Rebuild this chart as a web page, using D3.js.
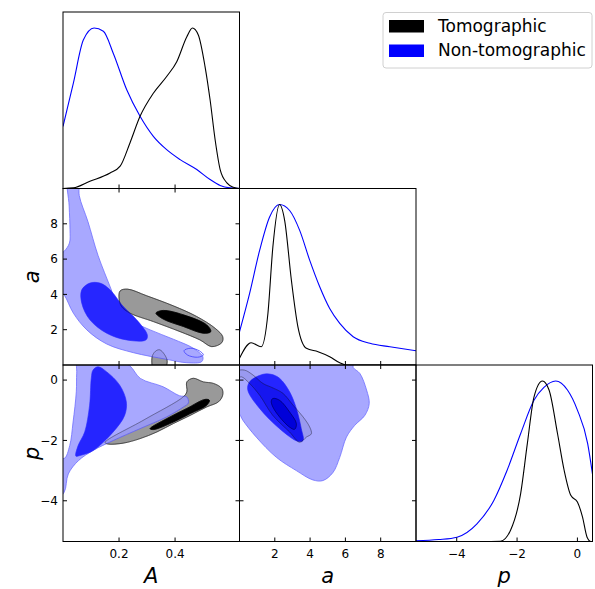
<!DOCTYPE html>
<html><head><meta charset="utf-8">
<script src="https://cdn.jsdelivr.net/npm/d3@7"></script>
<style>body{margin:0;background:#fff} text{font-family:"DejaVu Sans",sans-serif}</style>
</head><body><svg id="c" width="595" height="589"></svg>
<script>
// ---------------- DATA ----------------
const paramNames = ["A", "a", "p"];
const domainA = [0, 0.63];
const domain_a = [0, 10];
const domainP = [-5.35, 0.5];
const ticksA = [0.2, 0.4];
const ticks_a = [2, 4, 6, 8];
const ticksP = [-4, -2, 0];
const seriesNames = ["Tomographic", "Non-tomographic"];

// 1D marginals: [value, normalised density]
const margA_tomo = [[0,0],[0.037,0.004],[0.096,0.045],[0.168,0.097],[0.204,0.139],[0.239,0.284],[0.275,0.45],[0.3225,0.594],[0.37,0.698],[0.406,0.79],[0.442,0.946],[0.462,1.0],[0.483,0.957],[0.507,0.76],[0.525,0.553],[0.543,0.304],[0.561,0.118],[0.585,0.035],[0.608,0.008],[0.63,0]];
const margA_non = [[0,0.387],[0.037,0.657],[0.0725,0.925],[0.111,1.0],[0.144,0.98],[0.18,0.84],[0.2275,0.615],[0.275,0.45],[0.3225,0.325],[0.37,0.242],[0.418,0.18],[0.4775,0.118],[0.525,0.056],[0.561,0.019],[0.596,0.004],[0.63,0]];
const marg_a_tomo = [[0,0.042],[0.66,0.139],[1.23,0.114],[1.61,0.321],[1.89,0.735],[2.27,1.0],[2.56,0.90],[2.94,0.528],[3.31,0.238],[3.79,0.104],[4.45,0.083],[5.11,0.052],[5.68,0.014],[6.06,0],[7.0,0],[10,0]];
const marg_a_non = [[0,0.207],[0.57,0.445],[1.14,0.714],[1.70,0.921],[2.27,1.0],[2.84,0.963],[3.41,0.839],[3.98,0.652],[4.55,0.486],[5.11,0.352],[5.68,0.259],[6.44,0.176],[7.39,0.135],[8.52,0.114],[10,0.089]];
const margP_tomo = [[-5.35,0],[-3.2,0],[-2.55,0.002],[-2.22,0.069],[-1.88,0.30],[-1.66,0.61],[-1.44,0.90],[-1.16,1.0],[-0.94,0.944],[-0.66,0.673],[-0.44,0.444],[-0.22,0.2875],[0.0,0.246],[0.17,0.152],[0.32,0.027],[0.45,0],[0.5,0]];
const margP_non = [[-5.35,0.004],[-4.6,0.012],[-3.99,0.027],[-3.33,0.11],[-2.77,0.256],[-2.33,0.444],[-1.88,0.673],[-1.44,0.88],[-1.11,0.96],[-0.72,1.0],[-0.33,0.944],[0.0,0.819],[0.34,0.61],[0.5,0.42]];

// 2D contours (A vs a)
const Aa_tomo_outer = [[0.204,4.20],[0.23,4.30],[0.299,3.92],[0.394,3.35],[0.477,2.75],[0.543,2.08],[0.570,1.61],[0.567,1.27],[0.531,1.04],[0.489,1.42],[0.418,1.89],[0.3225,2.46],[0.239,2.94],[0.209,3.31],[0.2,3.79]];
const Aa_tomo_island = [[0.318,0.45],[0.33,0.78],[0.345,0.86],[0.362,0.6],[0.372,0.2],[0.36,-0.3],[0.325,-0.3]];
const Aa_tomo_inner = [[0.332,2.94],[0.358,3.09],[0.43,2.84],[0.513,2.27],[0.5275,1.89],[0.501,1.80],[0.43,2.18],[0.358,2.60]];
const Aa_non_outer = [[0.019,10.6],[0.055,10.6],[0.058,9.6],[0.089,8.125],[0.125,6.21],[0.171,4.32],[0.195,3.31],[0.239,2.56],[0.311,1.99],[0.394,1.46],[0.465,0.95],[0.499,0.47],[0.495,0.19],[0.442,0.13],[0.37,0.32],[0.251,0.70],[0.156,1.19],[0.085,1.99],[0.037,2.94],[0.004,3.98],[-0.03,4.6],[-0.03,6.0],[0.004,6.44],[0.023,6.91],[0.025,7.67],[0.022,9.0]];
const Aa_non_inner = [[0.096,4.64],[0.067,4.26],[0.067,3.50],[0.096,2.56],[0.156,1.80],[0.227,1.42],[0.296,1.42],[0.301,1.70],[0.263,2.56],[0.215,3.31],[0.168,4.26],[0.132,4.64]];
const Aa_non_island = [[0.432,0.81],[0.456,0.95],[0.487,0.80],[0.501,0.57],[0.48,0.44],[0.444,0.57]];

// 2D contours (A vs p)
const Ap_tomo_outer = [[0.15,-2.07],[0.289,-1.32],[0.4286,-0.56],[0.442,-0.39],[0.442,-0.06],[0.465,0.06],[0.501,-0.06],[0.537,-0.11],[0.567,-0.28],[0.570,-0.5],[0.555,-0.72],[0.513,-0.89],[0.454,-1.17],[0.394,-1.44],[0.335,-1.72],[0.275,-1.94],[0.215,-2.09],[0.161,-2.12]];
const Ap_tomo_inner = [[0.311,-1.61],[0.37,-1.28],[0.442,-0.94],[0.507,-0.64],[0.5225,-0.67],[0.513,-0.83],[0.454,-1.11],[0.394,-1.39],[0.3225,-1.64]];
const Ap_non_outer = [[0.054,0.62],[0.204,0.62],[0.239,0.47],[0.276,0.056],[0.357,-0.22],[0.416,-0.52],[0.442,-0.56],[0.4475,-0.76],[0.43,-0.89],[0.37,-1.22],[0.275,-1.61],[0.18,-2.0],[0.108,-2.33],[0.055,-2.67],[0.019,-3.11],[0.004,-3.72],[-0.03,-4.0],[-0.03,-2.5],[0.004,-2.6],[0.024,-2.17],[0.036,-1.39],[0.0475,-0.39],[0.049,0.23]];
const Ap_non_inner = [[0.125,0.44],[0.155,0.28],[0.2025,-0.17],[0.226,-0.72],[0.22,-1.17],[0.179,-1.72],[0.108,-2.33],[0.061,-2.5],[0.046,-2.52],[0.054,-2.17],[0.0775,-1.72],[0.095,-0.83],[0.101,0.06],[0.107,0.33]];

// 2D contours (a vs p)
const ap_tomo_outer = [[-0.1,0.3],[0.28,0.33],[0.76,0.17],[1.32,-0.11],[1.89,-0.26],[2.46,-0.44],[3.03,-0.83],[3.6,-1.22],[3.98,-1.56],[4.07,-1.78],[3.79,-1.89],[3.41,-2.06],[2.84,-1.72],[1.89,-1.17],[1.14,-0.5],[0.57,-0.11],[0.1,0.11],[-0.1,0.05]];
const ap_tomo_inner = [[1.89,-0.61],[2.27,-0.67],[2.84,-1.06],[3.22,-1.44],[3.125,-1.63],[2.84,-1.56],[2.27,-1.22],[1.89,-0.89],[1.8,-0.7]];
const ap_non_outer = [[-0.3,0.7],[6.44,0.62],[6.44,0.42],[6.82,0.22],[7.2,-0.33],[7.35,-0.78],[7.1,-1.17],[6.53,-1.5],[6.06,-1.89],[5.68,-2.56],[5.3,-3.06],[4.73,-3.33],[4.16,-3.31],[3.22,-3.0],[2.09,-2.56],[0.95,-1.89],[0.19,-1.33],[0,-1.13],[-0.3,-1.0]];
const ap_non_inner = [[1.32,0.19],[0.57,-0.06],[0.47,-0.33],[1.14,-0.94],[2.27,-1.61],[3.31,-2.03],[3.6,-2.0],[3.5,-1.61],[3.22,-0.94],[2.84,-0.39],[2.27,0.06],[1.8,0.19]];

// ---------------- DRAW ----------------
const svg = d3.select("#c");
const colEdges = [63, 239.5, 416, 592.5];
const rowEdges = [12, 188.5, 365, 541.5];
const domains = {A: domainA, a: domain_a, p: domainP};
const tickVals = {A: ticksA, a: ticks_a, p: ticksP};
const fmt = v => (v < 0 ? "\u2212" : "") + String(Math.abs(v));

const defs = svg.append("defs");
function makePanel(r, c) {
  const x0 = colEdges[c], x1 = colEdges[c + 1], y0 = rowEdges[r], y1 = rowEdges[r + 1];
  const x = d3.scaleLinear().domain(domains[paramNames[c]]).range([x0, x1]);
  const y = r === c ? d3.scaleLinear().domain([0, 1.1]).range([y1, y0])
                    : d3.scaleLinear().domain(domains[paramNames[r]]).range([y1, y0]);
  const id = "clip" + r + c;
  defs.append("clipPath").attr("id", id).append("rect").attr("x", x0).attr("y", y0).attr("width", x1 - x0).attr("height", y1 - y0);
  const g = svg.append("g").attr("clip-path", `url(#${id})`);
  return {r, c, x, y, g, x0, x1, y0, y1};
}

function drawMarg(P, data, color) {
  P.g.append("path").datum(data)
    .attr("d", d3.line().x(d => P.x(d[0])).y(d => P.y(d[1])).curve(d3.curveMonotoneX))
    .attr("fill", "none").attr("stroke", color).attr("stroke-width", 1.1);
}
function shape(P, g, pts, fill, stroke, sw, op) {
  g.append("path").datum(pts)
    .attr("d", d3.line().x(d => P.x(d[0])).y(d => P.y(d[1])).curve(d3.curveCatmullRomClosed.alpha(0.5)))
    .attr("fill", fill).attr("stroke", stroke).attr("stroke-width", sw).attr("stroke-opacity", op == null ? 1 : op);
}
function draw2D(P, tomoOuter, tomoInner, nonOuter, nonInner, tomoExtra, nonExtra) {
  const gt = P.g.append("g");
  shape(P, gt, tomoOuter, "#999999", "#444", 0.7);
  tomoExtra.forEach(s => shape(P, gt, s, "#999999", "#444", 0.7));
  shape(P, gt, tomoInner, "#000000", "#000", 0.7);
  const gn = P.g.append("g").attr("opacity", 0.85);
  shape(P, gn, nonOuter, "rgb(153,153,255)", "#5555ff", 0.8);
  nonExtra.forEach(s => shape(P, gn, s, "none", "#2222ff", 0.8));
  shape(P, gn, nonInner, "#0000ff", "#0000ff", 0.6);
  const go = P.g.append("g");
  shape(P, go, tomoOuter, "none", "#222", 0.7, 0.55);
  tomoExtra.forEach(s => shape(P, go, s, "none", "#222", 0.7, 0.55));
  shape(P, go, tomoInner, "none", "#000", 0.7, 0.55);
}

function frame(P) {
  const isDiag = P.r === P.c;
  const xt = tickVals[paramNames[P.c]];
  const g = svg.append("g");
  const L = 4;
  xt.forEach(v => {
    const xx = P.x(v);
    g.append("line").attr("x1", xx).attr("x2", xx).attr("y1", P.y1).attr("y2", P.y1 - L).attr("stroke", "#000");
    if (!isDiag) g.append("line").attr("x1", xx).attr("x2", xx).attr("y1", P.y0).attr("y2", P.y0 + L).attr("stroke", "#000");
  });
  if (!isDiag) {
    tickVals[paramNames[P.r]].forEach(v => {
      const yy = P.y(v);
      g.append("line").attr("x1", P.x0).attr("x2", P.x0 + L).attr("y1", yy).attr("y2", yy).attr("stroke", "#000");
      g.append("line").attr("x1", P.x1).attr("x2", P.x1 - L).attr("y1", yy).attr("y2", yy).attr("stroke", "#000");
    });
  }
  g.append("rect").attr("x", P.x0).attr("y", P.y0).attr("width", P.x1 - P.x0).attr("height", P.y1 - P.y0)
    .attr("fill", "none").attr("stroke", "#000").attr("stroke-width", 1);
  if (P.r === 2) {
    xt.forEach(v => g.append("text").attr("x", P.x(v)).attr("y", P.y1 + 16).attr("text-anchor", "middle")
      .attr("font-size", 12).text(fmt(v)));
  }
  if (P.c === 0 && P.r > 0) {
    tickVals[paramNames[P.r]].forEach(v => g.append("text").attr("x", P.x0 - 5).attr("y", P.y(v) + 4.3)
      .attr("text-anchor", "end").attr("font-size", 12).text(fmt(v)));
  }
}

const P11 = makePanel(0, 0), P22 = makePanel(1, 1), P33 = makePanel(2, 2);
const P21 = makePanel(1, 0), P31 = makePanel(2, 0), P32 = makePanel(2, 1);

drawMarg(P11, margA_non, "#0000ff"); drawMarg(P11, margA_tomo, "#000");
drawMarg(P22, marg_a_non, "#0000ff"); drawMarg(P22, marg_a_tomo, "#000");
drawMarg(P33, margP_non, "#0000ff"); drawMarg(P33, margP_tomo, "#000");

draw2D(P21, Aa_tomo_outer, Aa_tomo_inner, Aa_non_outer, Aa_non_inner, [Aa_tomo_island], [Aa_non_island]);
draw2D(P31, Ap_tomo_outer, Ap_tomo_inner, Ap_non_outer, Ap_non_inner, [], []);
draw2D(P32, ap_tomo_outer, ap_tomo_inner, ap_non_outer, ap_non_inner, [], []);

[P11, P22, P33, P21, P31, P32].forEach(frame);

// axis labels
const lab = svg.append("g").attr("font-style", "italic").attr("font-size", 21);
[0, 1, 2].forEach(c => lab.append("text").attr("x", (colEdges[c] + colEdges[c + 1]) / 2).attr("y", 583)
  .attr("text-anchor", "middle").text(paramNames[c]));
[1, 2].forEach(r => lab.append("text")
  .attr("transform", `translate(39,${(rowEdges[r] + rowEdges[r + 1]) / 2}) rotate(-90)`)
  .attr("text-anchor", "middle").text(paramNames[r]));

// legend
const leg = svg.append("g");
leg.append("rect").attr("x", 383).attr("y", 12.5).attr("width", 209).attr("height", 55.5).attr("rx", 3)
  .attr("fill", "#fff").attr("stroke", "#d0d0d0").attr("stroke-width", 1);
const legColors = ["#000000", "#0000ff"];
seriesNames.forEach((s, i) => {
  leg.append("rect").attr("x", 389).attr("y", 20 + i * 24.5).attr("width", 35).attr("height", 12.5).attr("fill", legColors[i]);
  leg.append("text").attr("x", 438).attr("y", 31.5 + i * 24.5).attr("font-size", 17).text(s);
});
</script></body></html>
